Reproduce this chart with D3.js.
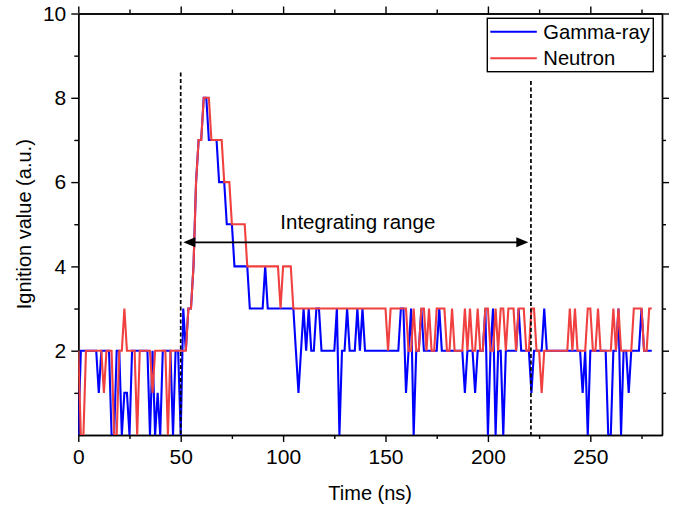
<!DOCTYPE html>
<html>
<head>
<meta charset="utf-8">
<script src="https://cdn.jsdelivr.net/npm/d3@7"></script>
<style>
  body { margin: 0; background: #fff; }
  text { font-family: "Liberation Sans", Arial, sans-serif; fill: #000; }
</style>
</head>
<body>
<svg id="chart" width="689" height="510"></svg>
<script>
// Sample times (ns), 1.25 ns sampling
const timeNs = [
  0, 1.25, 2.5, 3.75, 5, 6.25, 7.5, 8.75,
  10, 11.25, 12.5, 13.75, 15, 16.25, 17.5, 18.75,
  20, 21.25, 22.5, 23.75, 25, 26.25, 27.5, 28.75,
  30, 31.25, 32.5, 33.75, 35, 36.25, 37.5, 38.75,
  40, 41.25, 42.5, 43.75, 45, 46.25, 47.5, 48.75,
  50, 51.25, 52.5, 53.75, 55, 56.25, 57.5, 58.75,
  60, 61.25, 62.5, 63.75, 65, 66.25, 67.5, 68.75,
  70, 71.25, 72.5, 73.75, 75, 76.25, 77.5, 78.75,
  80, 81.25, 82.5, 83.75, 85, 86.25, 87.5, 88.75,
  90, 91.25, 92.5, 93.75, 95, 96.25, 97.5, 98.75,
  100, 101.25, 102.5, 103.75, 105, 106.25, 107.5, 108.75,
  110, 111.25, 112.5, 113.75, 115, 116.25, 117.5, 118.75,
  120, 121.25, 122.5, 123.75, 125, 126.25, 127.5, 128.75,
  130, 131.25, 132.5, 133.75, 135, 136.25, 137.5, 138.75,
  140, 141.25, 142.5, 143.75, 145, 146.25, 147.5, 148.75,
  150, 151.25, 152.5, 153.75, 155, 156.25, 157.5, 158.75,
  160, 161.25, 162.5, 163.75, 165, 166.25, 167.5, 168.75,
  170, 171.25, 172.5, 173.75, 175, 176.25, 177.5, 178.75,
  180, 181.25, 182.5, 183.75, 185, 186.25, 187.5, 188.75,
  190, 191.25, 192.5, 193.75, 195, 196.25, 197.5, 198.75,
  200, 201.25, 202.5, 203.75, 205, 206.25, 207.5, 208.75,
  210, 211.25, 212.5, 213.75, 215, 216.25, 217.5, 218.75,
  220, 221.25, 222.5, 223.75, 225, 226.25, 227.5, 228.75,
  230, 231.25, 232.5, 233.75, 235, 236.25, 237.5, 238.75,
  240, 241.25, 242.5, 243.75, 245, 246.25, 247.5, 248.75,
  250, 251.25, 252.5, 253.75, 255, 256.25, 257.5, 258.75,
  260, 261.25, 262.5, 263.75, 265, 266.25, 267.5, 268.75,
  270, 271.25, 272.5, 273.75, 275, 276.25, 277.5, 278.75,
  280
];

// Ignition value, gamma-ray channel
const gammaRay = [
  0, 2, 2, 2, 2, 2, 2, 2,
  1, 2, 2, 2, 2, 0, 0, 2,
  2, 0, 1, 1, 0, 2, 2, 2,
  2, 2, 2, 2, 0, 2, 0, 1,
  0, 2, 2, 2, 2, 0, 2, 2,
  0, 3, 2, 3, 3, 4, 6, 7,
  7, 8, 8, 7, 7, 7, 7, 6,
  6, 6, 5, 5, 5, 4, 4, 4,
  4, 4, 4, 3, 3, 3, 3, 3,
  3, 4, 3, 3, 3, 3, 3, 3,
  3, 3, 3, 3, 3, 2, 1, 2,
  3, 2, 3, 2, 2, 3, 3, 2,
  2, 2, 2, 2, 2, 3, 0, 2,
  2, 3, 2, 2, 2, 3, 2, 3,
  2, 2, 2, 2, 2, 2, 2, 2,
  2, 2, 2, 2, 2, 2, 3, 3,
  1, 2, 3, 0, 2, 2, 3, 2,
  2, 2, 2, 2, 2, 3, 2, 2,
  2, 2, 2, 2, 2, 2, 2, 1,
  2, 2, 2, 1, 2, 2, 2, 3,
  0, 2, 3, 0, 2, 2, 0, 2,
  2, 2, 2, 2, 3, 2, 2, 2,
  2, 1, 2, 2, 2, 2, 3, 2,
  2, 2, 2, 2, 2, 2, 2, 2,
  2, 2, 2, 2, 2, 1, 2, 0,
  2, 2, 2, 2, 2, 2, 2, 0,
  0, 2, 2, 3, 0, 2, 2, 1,
  2, 2, 2, 2, 3, 2, 2, 2,
  2
];

// Ignition value, neutron channel
const neutron = [
  2, 0, 0, 2, 2, 2, 2, 2,
  2, 2, 1, 2, 2, 2, 0, 0,
  2, 2, 3, 2, 2, 2, 2, 0,
  2, 2, 2, 2, 2, 1, 2, 2,
  2, 2, 2, 0, 2, 2, 2, 2,
  2, 2, 2, 3, 3, 4, 6, 7,
  7, 8, 8, 8, 7, 7, 7, 7,
  7, 6, 6, 6, 5, 5, 5, 5,
  5, 5, 4, 4, 4, 4, 4, 4,
  4, 4, 4, 4, 4, 4, 4, 3,
  4, 4, 4, 4, 3, 3, 3, 3,
  3, 3, 3, 3, 3, 3, 3, 3,
  3, 3, 3, 3, 3, 3, 3, 3,
  3, 3, 3, 3, 3, 3, 3, 3,
  3, 3, 3, 3, 3, 3, 3, 3,
  3, 2, 3, 3, 3, 3, 3, 3,
  3, 2, 2, 3, 2, 2, 3, 3,
  2, 3, 2, 2, 3, 3, 3, 3,
  2, 2, 3, 2, 2, 2, 2, 3,
  2, 3, 2, 2, 3, 2, 2, 3,
  3, 2, 2, 3, 2, 3, 3, 2,
  3, 3, 3, 2, 3, 3, 3, 2,
  2, 3, 3, 2, 2, 1, 2, 2,
  2, 2, 2, 2, 2, 2, 2, 2,
  3, 2, 3, 2, 2, 2, 2, 3,
  3, 2, 2, 3, 2, 2, 2, 2,
  2, 3, 2, 3, 2, 2, 2, 2,
  2, 3, 3, 3, 3, 2, 2, 3,
  3
];

const seriesNames = ["Gamma-ray", "Neutron"];
const xMajorTicks = [0, 50, 100, 150, 200, 250];
const xMinorTicks = [25, 75, 125, 175, 225, 275];
const yMajorTicks = [2, 4, 6, 8, 10];
const yMinorTicks = [1, 3, 5, 7, 9];
const annotationText = "Integrating range";
const gateStartNs = 50;
const gateEndNs = 221;

// ---- layout ----
const svg = d3.select("#chart");
const W = 689, H = 510;
const plot = { left: 78.3, right: 662, top: 13.5, bottom: 435 };
const colors = { gamma: "#0000ff", neutron: "#f04040" };

svg.append("rect").attr("width", W).attr("height", H).attr("fill", "#fff");

const x = d3.scaleLinear().domain([0, 285]).range([plot.left, plot.right]);
const y = d3.scaleLinear().domain([0, 10]).range([plot.bottom, plot.top]);

const tickFont = 21;

// axes: bottom / left labelled, top / right ticks only, all ticks pointing outward
function styleAxis(g) {
  g.selectAll("path.domain").attr("stroke", "#000").attr("stroke-width", 1.4);
  g.selectAll(".tick line").attr("stroke", "#000").attr("stroke-width", 1.4);
  g.selectAll(".tick text").attr("font-size", tickFont)
    .attr("font-family", '"Liberation Sans", Arial, sans-serif').attr("fill", "#000");
}

// bottom
svg.append("g").attr("transform", `translate(0,${plot.bottom})`)
  .call(d3.axisBottom(x).tickValues(xMajorTicks).tickSizeInner(7).tickSizeOuter(0).tickPadding(7).tickFormat(d3.format("d")))
  .call(styleAxis);
svg.append("g").attr("transform", `translate(0,${plot.bottom})`)
  .call(d3.axisBottom(x).tickValues(xMinorTicks).tickSizeInner(4).tickSizeOuter(0).tickFormat(""))
  .call(styleAxis);
// top
svg.append("g").attr("transform", `translate(0,${plot.top})`)
  .call(d3.axisTop(x).tickValues(xMajorTicks).tickSizeInner(7).tickSizeOuter(0).tickFormat(""))
  .call(styleAxis);
svg.append("g").attr("transform", `translate(0,${plot.top})`)
  .call(d3.axisTop(x).tickValues(xMinorTicks).tickSizeInner(4).tickSizeOuter(0).tickFormat(""))
  .call(styleAxis);
// left
svg.append("g").attr("transform", `translate(${plot.left},0)`)
  .call(d3.axisLeft(y).tickValues(yMajorTicks).tickSizeInner(7).tickSizeOuter(0).tickPadding(5).tickFormat(d3.format("d")))
  .call(styleAxis);
svg.append("g").attr("transform", `translate(${plot.left},0)`)
  .call(d3.axisLeft(y).tickValues(yMinorTicks).tickSizeInner(4).tickSizeOuter(0).tickFormat(""))
  .call(styleAxis);
// right
svg.append("g").attr("transform", `translate(${plot.right},0)`)
  .call(d3.axisRight(y).tickValues(yMajorTicks).tickSizeInner(7).tickSizeOuter(0).tickFormat(""))
  .call(styleAxis);
svg.append("g").attr("transform", `translate(${plot.right},0)`)
  .call(d3.axisRight(y).tickValues(yMinorTicks).tickSizeInner(4).tickSizeOuter(0).tickFormat(""))
  .call(styleAxis);

// axis titles
svg.append("text")
  .attr("x", (plot.left + plot.right) / 2).attr("y", 500)
  .attr("text-anchor", "middle").attr("font-size", 20)
  .text("Time (ns)");
svg.append("text")
  .attr("transform", `translate(31,${(plot.top + plot.bottom) / 2}) rotate(-90)`)
  .attr("text-anchor", "middle").attr("font-size", 20)
  .text("Ignition value (a.u.)");

// ---- data lines ----
const clipId = "plot-clip";
svg.append("clipPath").attr("id", clipId).append("rect")
  .attr("x", plot.left).attr("y", plot.top - 2)
  .attr("width", plot.right - plot.left).attr("height", plot.bottom - plot.top + 2);

const line = vals => d3.line()
  .x((d, i) => x(timeNs[i]))
  .y(d => y(d))(vals);

const dataG = svg.append("g").attr("clip-path", `url(#${clipId})`);
dataG.append("path").attr("d", line(gammaRay))
  .attr("fill", "none").attr("stroke", colors.gamma).attr("stroke-width", 2.1);
dataG.append("path").attr("d", line(neutron))
  .attr("fill", "none").attr("stroke", colors.neutron).attr("stroke-width", 2.1);

// ---- integrating window ----
const gateTop = [8.6, 8.4];
[gateStartNs, gateEndNs].forEach((t, k) => {
  svg.append("line")
    .attr("x1", x(t)).attr("x2", x(t))
    .attr("y1", y(gateTop[k])).attr("y2", plot.bottom)
    .attr("stroke", "#000").attr("stroke-width", 1.7)
    .attr("stroke-dasharray", "4,2.5");
});

const arrowY = y(4.57);
const ax1 = x(gateStartNs) + 2.6, ax2 = x(gateEndNs) - 2.6;
const headL = 12, headW = 5;
svg.append("line")
  .attr("x1", ax1 + headL - 1).attr("x2", ax2 - headL + 1)
  .attr("y1", arrowY).attr("y2", arrowY)
  .attr("stroke", "#000").attr("stroke-width", 1.8);
svg.append("path")
  .attr("d", `M${ax1},${arrowY} L${ax1 + headL},${arrowY - headW} L${ax1 + headL},${arrowY + headW} Z`)
  .attr("fill", "#000");
svg.append("path")
  .attr("d", `M${ax2},${arrowY} L${ax2 - headL},${arrowY - headW} L${ax2 - headL},${arrowY + headW} Z`)
  .attr("fill", "#000");
svg.append("text")
  .attr("x", (ax1 + ax2) / 2 + 2).attr("y", 228.5)
  .attr("text-anchor", "middle").attr("font-size", 20.5)
  .text(annotationText);

// ---- legend ----
const legend = svg.append("g").attr("transform", "translate(487.3,18.3)");
legend.append("rect").attr("width", 166).attr("height", 53.4)
  .attr("fill", "#fff").attr("stroke", "#000").attr("stroke-width", 1.4);
[colors.gamma, colors.neutron].forEach((c, k) => {
  const ly = 13.4 + k * 26.6;
  legend.append("line").attr("x1", 3).attr("x2", 49.5)
    .attr("y1", ly).attr("y2", ly)
    .attr("stroke", c).attr("stroke-width", 2);
  legend.append("text").attr("x", 56).attr("y", ly + 7.2)
    .attr("font-size", 20.2).text(seriesNames[k]);
});
</script>
</body>
</html>
